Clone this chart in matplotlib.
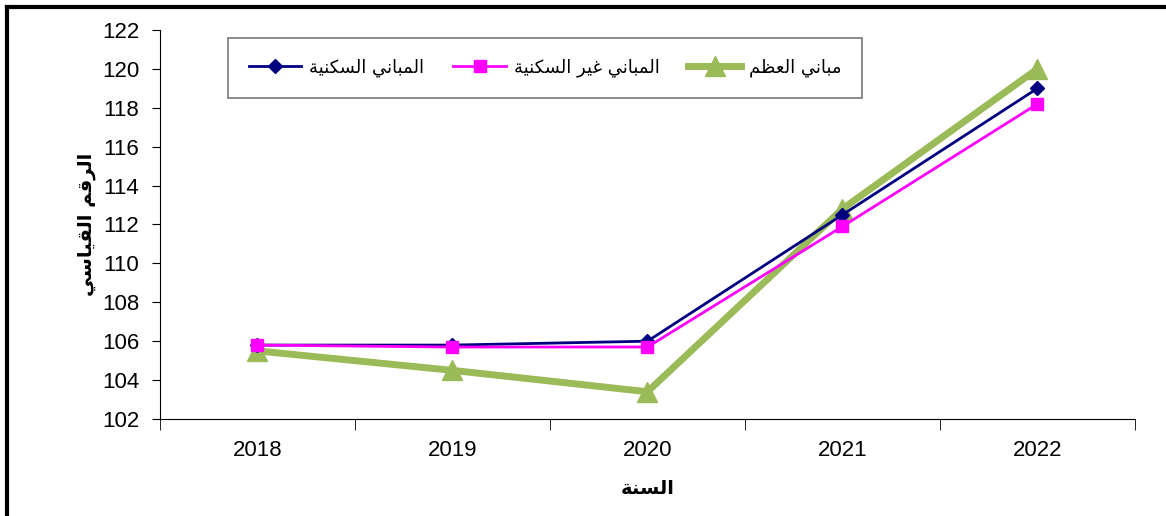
import matplotlib
matplotlib.use("Agg")
import matplotlib.pyplot as plt
from matplotlib.lines import Line2D

# ── data ─────────────────────────────────────────────
years = ["2018", "2019", "2020", "2021", "2022"]
residential = [105.8, 105.8, 106.0, 112.5, 119.0]
non_residential = [105.8, 105.7, 105.7, 111.9, 118.2]
skeleton = [105.5, 104.5, 103.4, 112.8, 120.0]

lbl_res = "المباني السكنية"
lbl_nonres = "المباني غير السكنية"
lbl_skel = "مباني العظم"
x_title = "السنة"
y_title = "الرقم القياسي"

# ── small arabic shaper (presentation forms, visual order) ─────
# base codepoint of isolated form, and whether the letter joins to the next one
FORMS = {
    "ا": (0xFE8D, False), "ب": (0xFE8F, True), "ة": (0xFE93, False),
    "ر": (0xFEAD, False), "س": (0xFEB1, True), "ظ": (0xFEC5, True),
    "ع": (0xFEC9, True), "غ": (0xFECD, True), "ق": (0xFED5, True),
    "ك": (0xFED9, True), "ل": (0xFEDD, True), "م": (0xFEE1, True),
    "ن": (0xFEE5, True), "ي": (0xFEF1, True),
}


def shape(txt):
    out = []
    for i, ch in enumerate(txt):
        if ch not in FORMS:
            out.append(ch)
            continue
        base, dual = FORMS[ch]
        prev = txt[i - 1] if i > 0 else " "
        nxt = txt[i + 1] if i + 1 < len(txt) else " "
        join_prev = prev in FORMS and FORMS[prev][1]
        join_next = dual and nxt in FORMS
        if join_prev and join_next:
            cp = base + 3
        elif join_next:
            cp = base + 2
        elif join_prev:
            cp = base + 1
        else:
            cp = base
        out.append(chr(cp))
    return "".join(out)[::-1]


plt.rcParams["font.family"] = ["Liberation Sans", "DejaVu Sans"]
AR = ["DejaVu Sans"]

fig = plt.figure(figsize=(11.66, 5.16), dpi=100)
ax = fig.add_axes([0.1372, 0.188, 0.8362, 0.7539])

x = range(len(years))
ax.plot(x, residential, color="#000080", lw=2, marker="D", ms=7,
        label=shape(lbl_res), zorder=3)
ax.plot(x, non_residential, color="#FF00FF", lw=2, marker="s", ms=9,
        label=shape(lbl_nonres), zorder=3)
ax.plot(x, skeleton, color="#9BBB59", lw=5, marker="^", ms=15,
        label=shape(lbl_skel), zorder=2)

ax.set_xlim(-0.5, len(years) - 0.5)
ax.set_ylim(102, 122)
ax.set_yticks(range(102, 123, 2))
ax.set_xticks(list(x))
ax.set_xticklabels(years)
ax.set_xticks([i - 0.5 for i in range(len(years) + 1)], minor=True)
ax.tick_params(axis="x", which="major", length=0, pad=15, labelsize=16)
ax.tick_params(axis="x", which="minor", length=8, direction="out")
ax.tick_params(axis="y", length=6, direction="out", pad=9, labelsize=16)

for s in ("top", "right"):
    ax.spines[s].set_visible(False)

ax.set_xlabel(shape(x_title), family=AR, fontweight="bold", fontsize=14,
              labelpad=13)
ax.set_ylabel(shape(y_title), family=AR, fontweight="bold", fontsize=14,
              labelpad=4)

leg = ax.legend(loc="upper left", bbox_to_anchor=(0.07, 0.98), ncol=3,
                frameon=True, fancybox=False, borderaxespad=0,
                prop={"family": AR, "size": 13}, handlelength=2.9,
                handletextpad=0.45, columnspacing=1.6, borderpad=1.15)
leg.get_frame().set_edgecolor("#555555")
leg.get_frame().set_linewidth(1.2)

# outer frame (top and left edges of the page box)
fig.add_artist(Line2D([0.006, 1.0], [0.986, 0.986], color="black", lw=3,
                      transform=fig.transFigure))
fig.add_artist(Line2D([0.006, 0.006], [0.0, 0.986], color="black", lw=3,
                      transform=fig.transFigure))

fig.savefig("out.png", dpi=100)
